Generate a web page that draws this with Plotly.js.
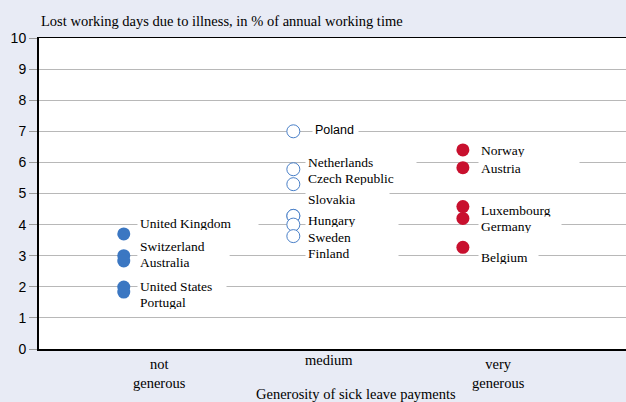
<!DOCTYPE html>
<html>
<head>
<meta charset="utf-8">
<script src="https://cdn.plot.ly/plotly-3.0.1.min.js"></script>
<style>
html,body{margin:0;padding:0;background:#e8ebf5;}
#chart{width:626px;height:402px;}
</style>
</head>
<body>
<div id="chart"></div>
<script>
// ---- data ----
const categories = ['not<br>generous', 'medium', 'very<br>generous'];
const xTitle = 'Generosity of sick leave payments';
const yTitle = 'Lost working days due to illness, in % of annual working time';

const notCountries = ['United Kingdom', 'Switzerland', 'Australia', 'United States', 'Portugal'];
const notValues = [3.7, 3.0, 2.83, 1.99, 1.83];

const medCountries = ['Poland', 'Netherlands', 'Czech Republic', 'Slovakia', 'Hungary', 'Sweden', 'Finland'];
const medValues = [7.0, 5.78, 5.3, 4.28, 4.28, 4.0, 3.63];

const veryCountries = ['Norway', 'Austria', 'Luxembourg', 'Germany', 'Belgium'];
const veryValues = [6.4, 5.83, 4.58, 4.2, 3.27];

// ---- label layout (positions/styles) ----
const notShift = [11, 10, -1, 1, -10];
const notWidth = [116, 87, 87, 84, 84];
const medShift = [1, 7, 6, 17, -4, -12, -17];
const medWidth = [41, 106, 106, 79, 88, 88, 88];
const veryShift = [0, 0, -3, -8, -10];
const veryWidth = [96, 96, 78, 78, 55];

const serif = 'Liberation Serif, Times New Roman, serif';
const sans = 'Liberation Sans, Arial, sans-serif';

function grpX(i, n) { return Array(n).fill(i); }

const traces = [
  {x: grpX(0, notValues.length), y: notValues, type: 'scatter', mode: 'markers',
   marker: {size: 13, color: '#3b77c2', line: {width: 0}}, hoverinfo: 'skip'},
  {x: grpX(1, medValues.length), y: medValues, type: 'scatter', mode: 'markers',
   marker: {size: 13, color: '#ffffff', line: {width: 1, color: '#4a80c8'}}, hoverinfo: 'skip'},
  {x: grpX(2, veryValues.length), y: veryValues, type: 'scatter', mode: 'markers',
   marker: {size: 13, color: '#c8102e', line: {width: 0}}, hoverinfo: 'skip'}
];

const annotations = [];
function addLabels(gi, names, vals, shifts, widths, boxOffset) {
  names.forEach((n, k) => {
    const isPoland = n === 'Poland';
    annotations.push({
      x: gi, y: vals[k], xref: 'x', yref: 'y',
      text: n, showarrow: false,
      xanchor: 'left', yanchor: 'middle', align: 'left',
      xshift: isPoland ? 19 : boxOffset, yshift: shifts[k],
      width: widths[k], height: 14,
      bgcolor: '#ffffff', borderpad: 2,
      font: {family: isPoland ? sans : serif, size: isPoland ? 12.5 : 13.5, color: '#000'}
    });
  });
}
addLabels(0, notCountries, notValues, notShift, notWidth, 13);
addLabels(1, medCountries, medValues, medShift, medWidth, 12);
addLabels(2, veryCountries, veryValues, veryShift, veryWidth, 15);

// category labels under axis
categories.forEach((c, i) => {
  annotations.push({
    x: i, y: 0, xref: 'x', yref: 'paper', text: c, showarrow: false,
    xanchor: 'center', yanchor: 'top', xshift: 36,
    yshift: c.indexOf('<br>') >= 0 ? -5 : -1,
    font: {family: serif, size: 14.5, color: '#000'}
  });
});
// axis titles
annotations.push({
  x: 0, y: 1, xref: 'paper', yref: 'paper', text: yTitle, showarrow: false,
  xanchor: 'left', yanchor: 'bottom', xshift: 0, yshift: 7,
  font: {family: serif, size: 14.5, color: '#000'}
});
annotations.push({
  x: 0.54, y: 0, xref: 'paper', yref: 'paper', text: xTitle, showarrow: false,
  xanchor: 'center', yanchor: 'top', yshift: -35,
  font: {family: serif, size: 14.5, color: '#000'}
});

const layout = {
  width: 626, height: 402,
  margin: {l: 39, r: 0, t: 38, b: 53},
  paper_bgcolor: '#e8ebf5', plot_bgcolor: '#ffffff',
  showlegend: false,
  xaxis: {range: [-0.5, 2.962], showgrid: false, zeroline: false,
          showticklabels: false, ticks: '', showline: true, mirror: true,
          linecolor: '#000', linewidth: 1.5, fixedrange: true},
  yaxis: {range: [0, 10], dtick: 1, tick0: 0, showgrid: true, gridcolor: '#b8b8b8',
          gridwidth: 1, zeroline: false, ticks: 'outside', ticklen: 8, tickcolor: '#999',
          tickfont: {family: sans, size: 14, color: '#000'}, showline: true,
          linecolor: '#000', linewidth: 2, fixedrange: true},
  annotations: annotations
};

Plotly.newPlot('chart', traces, layout, {displayModeBar: false, staticPlot: true});
</script>
</body>
</html>
